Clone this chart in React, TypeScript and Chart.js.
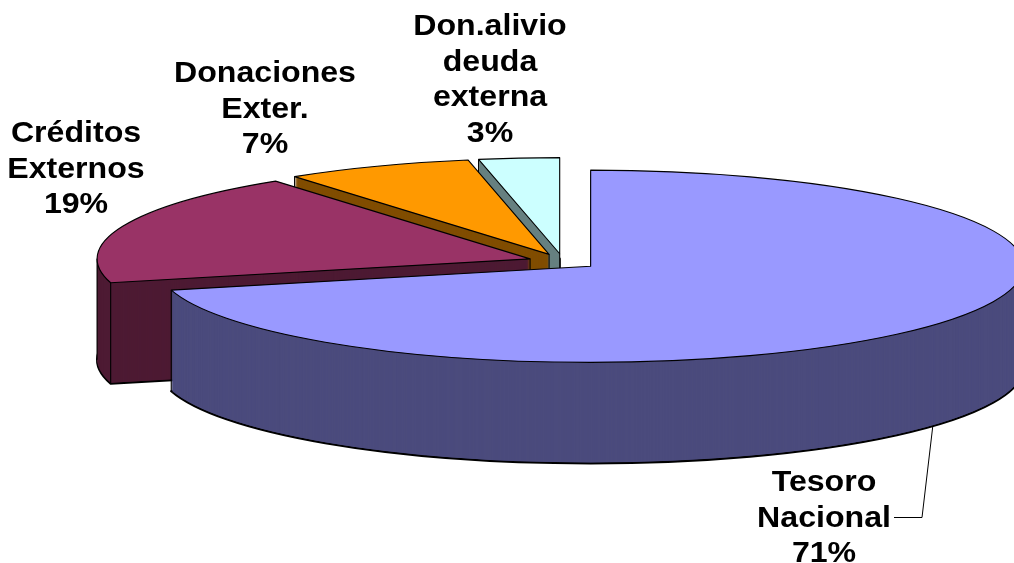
import React, { useEffect, useRef } from 'react';
import { Chart, registerables } from 'chart.js';

Chart.register(...registerables);

// ---- data ----
const categories = ['Tesoro Nacional', 'Créditos Externos', 'Donaciones Exter.', 'Don.alivio deuda externa'];
const labelLines = [
  ['Tesoro', 'Nacional'],
  ['Créditos', 'Externos'],
  ['Donaciones', 'Exter.'],
  ['Don.alivio', 'deuda', 'externa'],
];
const shares = [71, 19, 7, 3];

// ---- styles ----
const topColors = ['#9999FF', '#993366', '#FF9900', '#CCFFFF'];
const sideColors = ['#4B4B7D', '#4D1A33', '#804D00', '#668080'];
// label placement: centre x, first baseline y
const labelAnchors = [
  [824, 491],
  [76, 142],
  [265, 82],
  [490, 35],
];
const LINE_H = 35.5;
const TEXT_STRETCH = 1.07;
const TILT = 0.222;
const DEPTH = 101;
const EXPLODE = 35;
const RADIUS = 433;
const EPS = 1e-6;

const pie3d = {
  id: 'pie3d',
  beforeDatasetsDraw(chart: any) {
    const ctx: CanvasRenderingContext2D = chart.ctx;
    const meta = chart.getDatasetMeta(0);
    const arcs = meta.data as any[];
    const base = ctx.getTransform();
    const geo = arcs.map((a, i) => {
      const mid = (a.startAngle + a.endAngle) / 2;
      return { i, a, mid, ex: Math.cos(mid) * EXPLODE, ey: Math.sin(mid) * EXPLODE };
    });
    const view = (g: any, shift: number) => {
      ctx.setTransform(base);
      ctx.translate(0, g.a.y + shift);
      ctx.scale(1, TILT);
      ctx.translate(0, -g.a.y);
      ctx.translate(g.ex, g.ey);
    };
    const path = (g: any) => {
      const a = g.a;
      ctx.beginPath();
      ctx.moveTo(a.x, a.y);
      ctx.arc(a.x, a.y, a.outerRadius, a.startAngle, a.endAngle);
      ctx.closePath();
    };
    const pt = (g: any, ang: number, r: number) => ({
      x: g.a.x + g.ex + Math.cos(ang) * r,
      y: g.a.y + (g.ey + Math.sin(ang) * r) * TILT,
    });
    const vline = (p: { x: number; y: number }) => {
      ctx.setTransform(base);
      ctx.beginPath();
      ctx.moveTo(p.x, p.y);
      ctx.lineTo(p.x, p.y + DEPTH);
      ctx.stroke();
    };
    const order = [...geo].sort((p, q) => Math.sin(p.mid) - Math.sin(q.mid));
    ctx.save();
    ctx.lineJoin = 'round';
    for (const g of order) {
      const a = g.a;
      const s = a.startAngle;
      const e = a.endAngle;
      const R = a.outerRadius;
      ctx.fillStyle = sideColors[g.i];
      ctx.strokeStyle = '#000';
      // bottom outline
      view(g, DEPTH);
      path(g);
      ctx.fill();
      ctx.setTransform(base);
      ctx.lineWidth = 2.2;
      ctx.stroke();
      // extruded body
      for (let k = DEPTH - 1; k >= 1; k--) {
        view(g, k);
        path(g);
        ctx.fill();
      }
      // vertical edges
      ctx.lineWidth = 1.1;
      const startFace = Math.sin(s - Math.PI / 2) > EPS;
      const endFace = Math.sin(e + Math.PI / 2) > EPS;
      if (Math.sin(s) > EPS || startFace) vline(pt(g, s, R));
      if (Math.sin(e) > EPS || endFace) vline(pt(g, e, R));
      if (startFace || endFace) vline(pt(g, 0, 0));
      for (let m = -1; m <= 3; m++) {
        const ang = m * Math.PI;
        if (ang > s + EPS && ang < e - EPS) vline(pt(g, ang, R));
      }
      // top face, drawn by the library's arc element
      view(g, 0);
      a.draw(ctx);
      view(g, 0);
      path(g);
      ctx.setTransform(base);
      ctx.lineWidth = 1.1;
      ctx.stroke();
    }
    ctx.restore();
    ctx.setTransform(base);
    return false;
  },
  afterDraw(chart: any) {
    const ctx: CanvasRenderingContext2D = chart.ctx;
    const meta = chart.getDatasetMeta(0);
    ctx.save();
    ctx.fillStyle = '#000';
    ctx.font = 'bold 30px "Liberation Sans", Arial, sans-serif';
    ctx.textAlign = 'center';
    ctx.textBaseline = 'alphabetic';
    categories.forEach((_, i) => {
      const lines = [...labelLines[i], `${shares[i]}%`];
      const [cx, y0] = labelAnchors[i];
      lines.forEach((t, j) => {
        ctx.save();
        ctx.translate(cx, y0 + j * LINE_H);
        ctx.scale(TEXT_STRETCH, 1);
        ctx.fillText(t, 0, 0);
        ctx.restore();
      });
    });
    // leader line for the first slice
    const a = meta.data[0];
    const mid = (a.startAngle + a.endAngle) / 2;
    const ex = Math.cos(mid) * EXPLODE;
    const ey = Math.sin(mid) * EXPLODE;
    const px = a.x + ex + Math.cos(mid) * a.outerRadius;
    const py = a.y + (ey + Math.sin(mid) * a.outerRadius) * TILT + DEPTH;
    const elbowX = labelAnchors[0][0] + 98;
    const elbowY = labelAnchors[0][1] + LINE_H - 9;
    ctx.strokeStyle = '#000';
    ctx.lineWidth = 1;
    ctx.beginPath();
    ctx.moveTo(px, py);
    ctx.lineTo(elbowX, elbowY);
    ctx.lineTo(elbowX - 28, elbowY);
    ctx.stroke();
    ctx.restore();
  },
};

export default function App() {
  const ref = useRef<HTMLCanvasElement | null>(null);
  useEffect(() => {
    if (!ref.current) return;
    const chart = new Chart(ref.current, {
      type: 'pie',
      data: {
        labels: categories,
        datasets: [
          {
            data: shares,
            backgroundColor: topColors,
            borderWidth: 0,
            radius: RADIUS,
          } as any,
        ],
      },
      options: {
        responsive: false,
        animation: false,
        events: [],
        layout: { padding: { left: 112, bottom: 40 } },
        plugins: { legend: { display: false }, tooltip: { enabled: false } },
      },
      plugins: [pie3d as any],
    });
    return () => chart.destroy();
  }, []);
  return (
    <div style={{ position: 'absolute', left: 0, top: 0, width: 1014, height: 563, background: '#fff' }}>
      <canvas ref={ref} width={1014} height={563} style={{ display: 'block' }} />
    </div>
  );
}
